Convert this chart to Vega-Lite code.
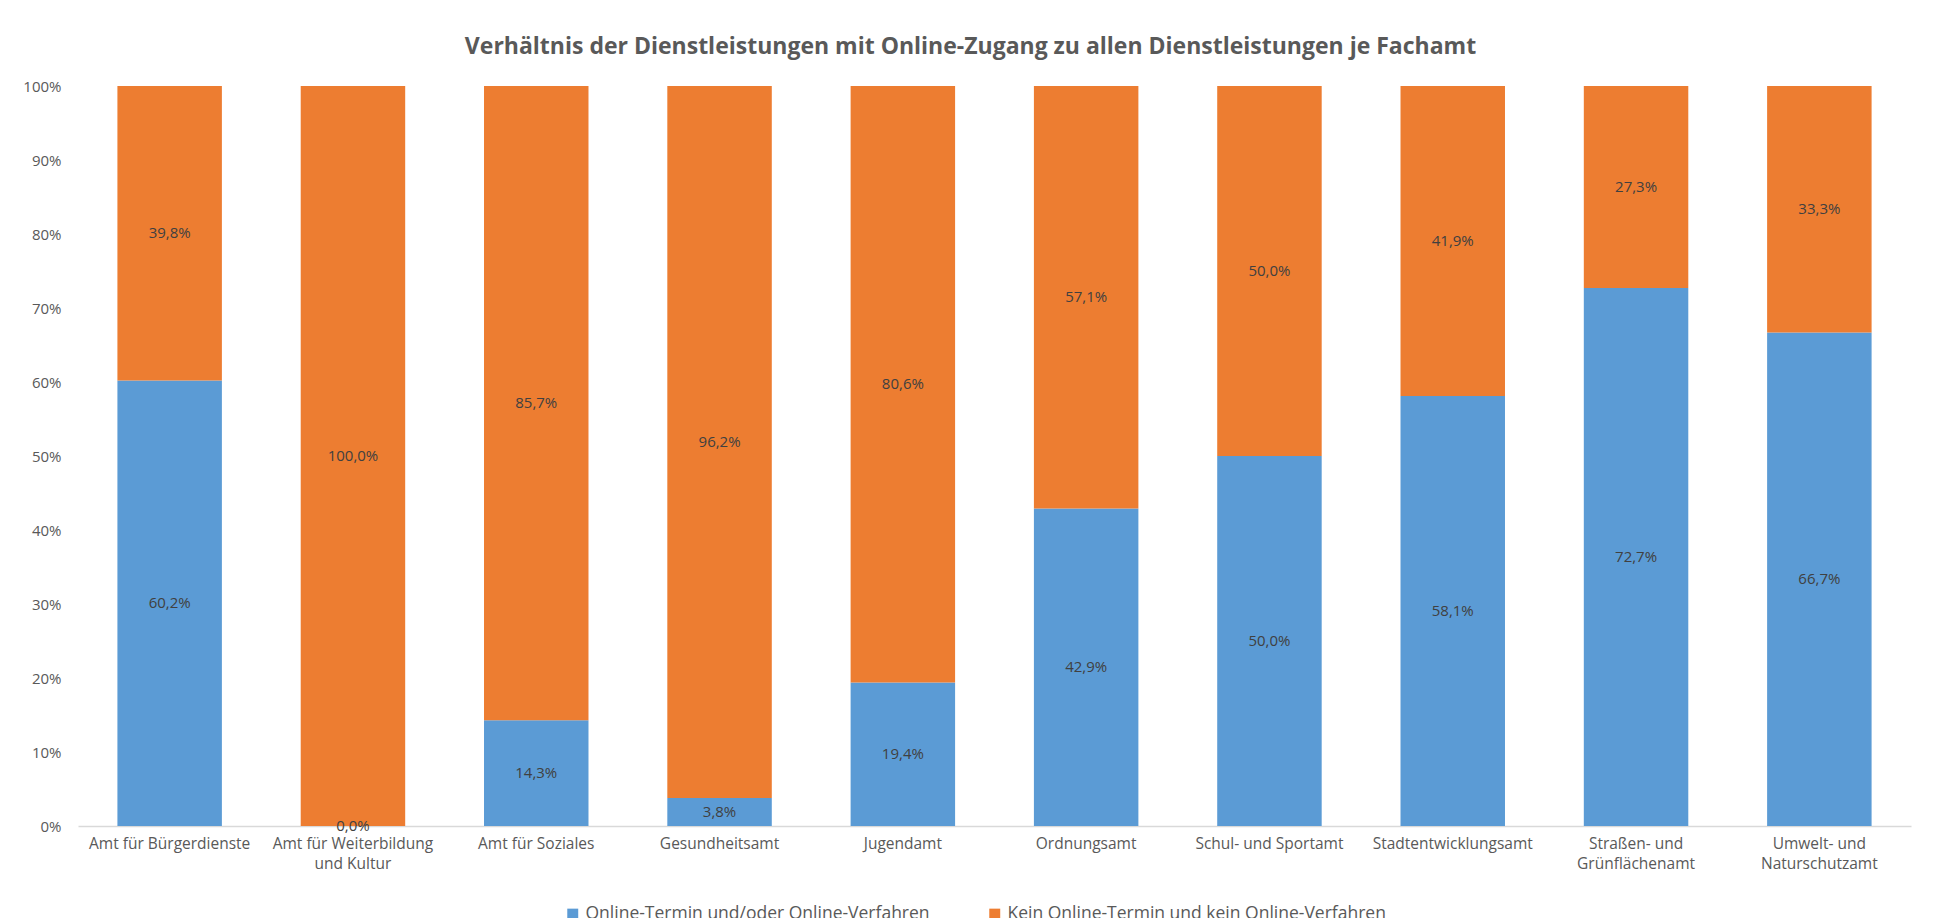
{
  "$schema": "https://vega.github.io/schema/vega-lite/v6.json",
  "width": 1833,
  "height": 740,
  "autosize": {"type": "none"},
  "padding": {"left": 78, "top": 86, "right": 28, "bottom": 92},
  "background": "white",
  "config": {
    "locale": {"number": {"decimal": ",", "thousands": ".", "grouping": [3], "currency": ["", " €"]}},
    "view": {"stroke": null},
    "font": "Open Sans"
  },
  "title": {
    "text": "Verhältnis der Dienstleistungen mit Online-Zugang zu allen Dienstleistungen je Fachamt",
    "fontSize": 23,
    "fontWeight": "bold",
    "color": "#595959",
    "anchor": "middle",
    "offset": 20,
    "dx": -24
  },
  "data": {
    "values": [
      {"Fachamt": "Amt für Bürgerdienste", "Kategorie": "Online-Termin und/oder Online-Verfahren", "Anteil": 0.602},
      {"Fachamt": "Amt für Bürgerdienste", "Kategorie": "Kein Online-Termin und kein Online-Verfahren", "Anteil": 0.398},
      {"Fachamt": "Amt für Weiterbildung und Kultur", "Kategorie": "Online-Termin und/oder Online-Verfahren", "Anteil": 0.0},
      {"Fachamt": "Amt für Weiterbildung und Kultur", "Kategorie": "Kein Online-Termin und kein Online-Verfahren", "Anteil": 1.0},
      {"Fachamt": "Amt für Soziales", "Kategorie": "Online-Termin und/oder Online-Verfahren", "Anteil": 0.143},
      {"Fachamt": "Amt für Soziales", "Kategorie": "Kein Online-Termin und kein Online-Verfahren", "Anteil": 0.857},
      {"Fachamt": "Gesundheitsamt", "Kategorie": "Online-Termin und/oder Online-Verfahren", "Anteil": 0.038},
      {"Fachamt": "Gesundheitsamt", "Kategorie": "Kein Online-Termin und kein Online-Verfahren", "Anteil": 0.962},
      {"Fachamt": "Jugendamt", "Kategorie": "Online-Termin und/oder Online-Verfahren", "Anteil": 0.194},
      {"Fachamt": "Jugendamt", "Kategorie": "Kein Online-Termin und kein Online-Verfahren", "Anteil": 0.806},
      {"Fachamt": "Ordnungsamt", "Kategorie": "Online-Termin und/oder Online-Verfahren", "Anteil": 0.429},
      {"Fachamt": "Ordnungsamt", "Kategorie": "Kein Online-Termin und kein Online-Verfahren", "Anteil": 0.571},
      {"Fachamt": "Schul- und Sportamt", "Kategorie": "Online-Termin und/oder Online-Verfahren", "Anteil": 0.5},
      {"Fachamt": "Schul- und Sportamt", "Kategorie": "Kein Online-Termin und kein Online-Verfahren", "Anteil": 0.5},
      {"Fachamt": "Stadtentwicklungsamt", "Kategorie": "Online-Termin und/oder Online-Verfahren", "Anteil": 0.581},
      {"Fachamt": "Stadtentwicklungsamt", "Kategorie": "Kein Online-Termin und kein Online-Verfahren", "Anteil": 0.419},
      {"Fachamt": "Straßen- und Grünflächenamt", "Kategorie": "Online-Termin und/oder Online-Verfahren", "Anteil": 0.727},
      {"Fachamt": "Straßen- und Grünflächenamt", "Kategorie": "Kein Online-Termin und kein Online-Verfahren", "Anteil": 0.273},
      {"Fachamt": "Umwelt- und Naturschutzamt", "Kategorie": "Online-Termin und/oder Online-Verfahren", "Anteil": 0.667},
      {"Fachamt": "Umwelt- und Naturschutzamt", "Kategorie": "Kein Online-Termin und kein Online-Verfahren", "Anteil": 0.333}
    ]
  },
  "encoding": {
    "x": {
      "field": "Fachamt",
      "type": "nominal",
      "sort": null,
      "scale": {"paddingInner": 0.43, "paddingOuter": 0.215},
      "axis": {
        "title": null,
        "labelAngle": 0,
        "labelFontSize": 15.5,
        "labelColor": "#595959",
        "labelPadding": 10,
        "labelLineHeight": 20,
        "labelBaseline": "top",
        "labelLimit": 0,
        "ticks": false,
        "domain": true,
        "domainColor": "#D9D9D9",
        "domainWidth": 1.5,
        "labelExpr": "datum.value == 'Amt für Weiterbildung und Kultur' ? ['Amt für Weiterbildung', 'und Kultur'] : datum.value == 'Straßen- und Grünflächenamt' ? ['Straßen- und', 'Grünflächenamt'] : datum.value == 'Umwelt- und Naturschutzamt' ? ['Umwelt- und', 'Naturschutzamt'] : datum.value"
      }
    }
  },
  "layer": [
    {
      "mark": {"type": "bar"},
      "encoding": {
        "y": {
          "field": "Anteil",
          "type": "quantitative",
          "stack": "zero",
          "scale": {"domain": [0, 1]},
          "axis": {
            "title": null,
            "format": ".0%",
            "values": [0, 0.1, 0.2, 0.3, 0.4, 0.5, 0.6, 0.7, 0.8, 0.9, 1.0],
            "grid": false,
            "domain": false,
            "ticks": false,
            "labelFontSize": 15,
            "labelColor": "#595959",
            "labelPadding": 17
          }
        },
        "color": {
          "field": "Kategorie",
          "type": "nominal",
          "scale": {
            "domain": ["Online-Termin und/oder Online-Verfahren", "Kein Online-Termin und kein Online-Verfahren"],
            "range": ["#5B9BD5", "#ED7D31"]
          },
          "legend": {
            "title": null,
            "orient": "none",
            "direction": "horizontal",
            "legendX": 486,
            "legendY": 819,
            "symbolType": "square",
            "symbolSize": 120,
            "symbolStrokeWidth": 0,
            "labelFontSize": 17.5,
            "labelColor": "#595959",
            "labelLimit": 0,
            "columnPadding": 56,
            "padding": 0
          }
        },
        "order": {"field": "Kategorie", "sort": "descending"}
      }
    },
    {
      "transform": [
        {"stack": "Anteil", "groupby": ["Fachamt"], "as": ["y0", "y1"], "sort": [{"field": "Kategorie", "order": "descending"}]},
        {"calculate": "(datum.y0 + datum.y1) / 2", "as": "mid"}
      ],
      "mark": {"type": "text", "fontSize": 15, "color": "#404040", "baseline": "middle"},
      "encoding": {
        "y": {"field": "mid", "type": "quantitative"},
        "text": {"field": "Anteil", "type": "quantitative", "format": ".1%"}
      }
    }
  ]
}
